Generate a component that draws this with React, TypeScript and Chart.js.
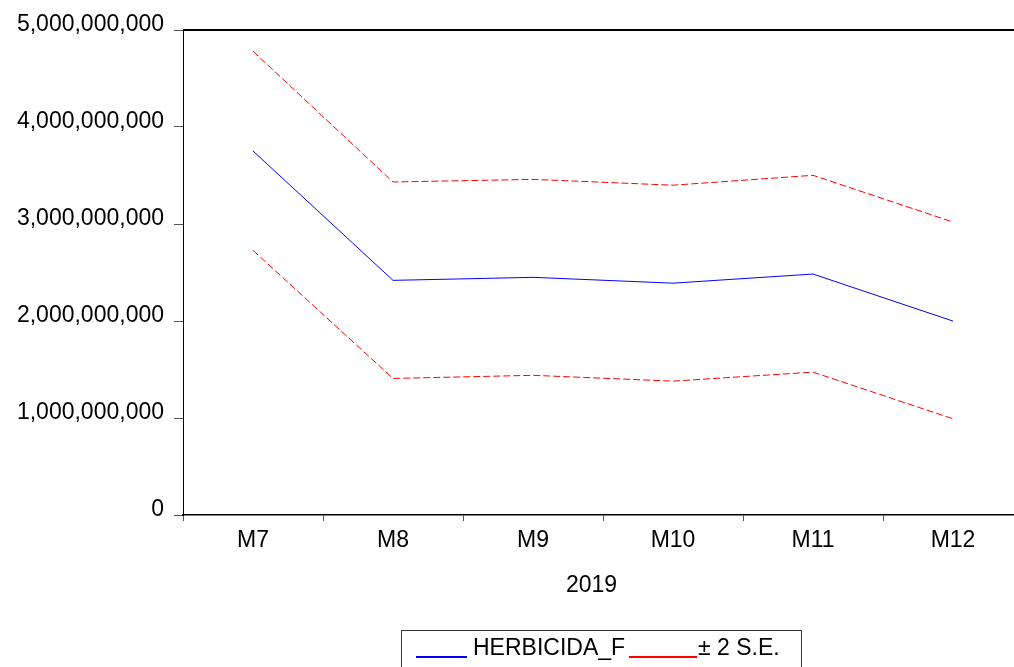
import React, { useEffect, useRef } from "react";
import { Chart, registerables } from "chart.js";

Chart.register(...registerables);

// Monthly forecast for 2019 with ±2 standard-error band
const months = ["M7", "M8", "M9", "M10", "M11", "M12"];
const forecast = [3.753e9, 2.419e9, 2.45e9, 2.39e9, 2.484e9, 1.999e9];
const upperBand = [4.781e9, 3.433e9, 3.46e9, 3.4e9, 3.502e9, 3.02e9];
const lowerBand = [2.728e9, 1.408e9, 1.44e9, 1.38e9, 1.473e9, 0.992e9];
const yearLabel = "2019";
const seriesLabel = "HERBICIDA_F";
const bandLabel = "± 2 S.E.";

const FONT = "'Liberation Sans', Arial, sans-serif";
const FONT_SIZE = 23;

const framePlugin = {
  id: "frame",
  afterDraw(chart: any) {
    const { ctx, chartArea } = chart;
    ctx.save();
    // top border of the plot
    ctx.strokeStyle = "#000";
    ctx.lineWidth = 2;
    ctx.beginPath();
    ctx.moveTo(chartArea.left, chartArea.top);
    ctx.lineTo(chartArea.right, chartArea.top);
    ctx.stroke();

    // x-axis title
    ctx.fillStyle = "#000";
    ctx.font = `${FONT_SIZE}px ${FONT}`;
    ctx.textAlign = "center";
    ctx.textBaseline = "alphabetic";
    ctx.fillText(yearLabel, 591.5, 592);

    // legend box
    ctx.strokeStyle = "#333";
    ctx.lineWidth = 1;
    ctx.strokeRect(401.5, 630.5, 400, 60);

    const ds = chart.data.datasets;
    const entries = [
      { x0: 416, x1: 467, tx: 473, color: ds[0].borderColor, text: ds[0].label },
      { x0: 629, x1: 697, tx: 698, color: ds[1].borderColor, text: ds[1].label },
    ];
    ctx.textAlign = "left";
    for (const e of entries) {
      ctx.strokeStyle = e.color;
      ctx.lineWidth = 2;
      ctx.setLineDash([]);
      ctx.beginPath();
      ctx.moveTo(e.x0, 657);
      ctx.lineTo(e.x1, 657);
      ctx.stroke();
      ctx.fillStyle = "#000";
      ctx.fillText(e.text, e.tx, 655);
    }
    ctx.restore();
  },
};

export default function App() {
  const canvasRef = useRef<HTMLCanvasElement | null>(null);

  useEffect(() => {
    const canvas = canvasRef.current;
    if (!canvas) return;
    const chart = new Chart(canvas, {
      type: "line",
      data: {
        labels: months,
        datasets: [
          {
            label: seriesLabel,
            data: forecast,
            borderColor: "#0000FF",
            borderWidth: 1,
            pointRadius: 0,
            tension: 0,
          },
          {
            label: bandLabel,
            data: upperBand,
            borderColor: "#FF0000",
            borderWidth: 1,
            borderDash: [7, 3],
            pointRadius: 0,
            tension: 0,
          },
          {
            label: bandLabel,
            data: lowerBand,
            borderColor: "#FF0000",
            borderWidth: 1,
            borderDash: [7, 3],
            pointRadius: 0,
            tension: 0,
          },
        ],
      },
      options: {
        animation: false,
        responsive: false,
        devicePixelRatio: 1,
        layout: { padding: { top: 30, left: 0, right: 1, bottom: 0 } },
        plugins: {
          legend: { display: false },
          tooltip: { enabled: false },
        },
        scales: {
          x: {
            type: "category",
            offset: true,
            grid: {
              offset: true,
              drawOnChartArea: false,
              drawTicks: true,
              tickLength: 6,
              color: "#555",
            },
            border: { display: true, color: "#000", width: 1.5 },
            ticks: {
              color: "#000",
              font: { family: FONT, size: FONT_SIZE },
              padding: 6,
              maxRotation: 0,
              autoSkip: false,
            },
            afterFit(scale: any) {
              scale.height = 152;
            },
          },
          y: {
            min: 0,
            max: 5e9,
            grid: {
              drawOnChartArea: false,
              drawTicks: true,
              tickLength: 9,
              color: "#555",
            },
            border: { display: true, color: "#000", width: 1 },
            ticks: {
              stepSize: 1e9,
              color: "#000",
              font: { family: FONT, size: FONT_SIZE },
              padding: 10,
              labelOffset: -5,
              callback: (v: any) => Number(v).toLocaleString("en-US"),
            },
            afterFit(scale: any) {
              scale.width = 183;
            },
          },
        },
      },
      plugins: [framePlugin],
    });
    return () => chart.destroy();
  }, []);

  return (
    <div
      style={{
        position: "fixed",
        left: 0,
        top: 0,
        width: 1014,
        height: 667,
        overflow: "hidden",
        background: "#fff",
      }}
    >
      <canvas
        ref={canvasRef}
        width={1024}
        height={667}
        style={{ display: "block", width: 1024, height: 667 }}
      />
    </div>
  );
}
